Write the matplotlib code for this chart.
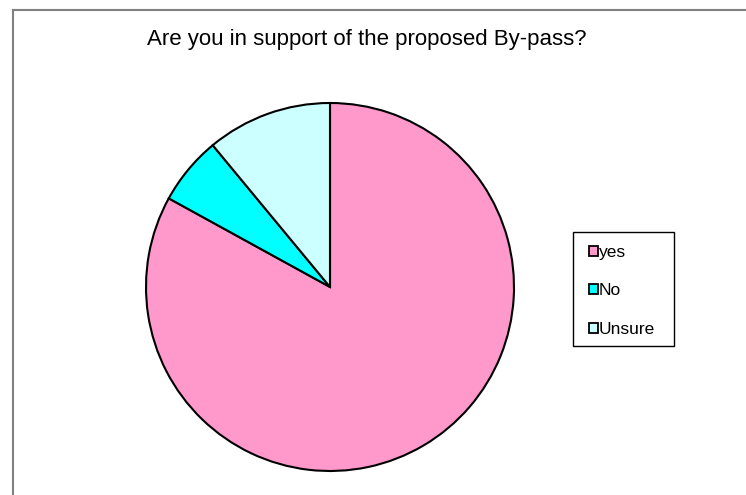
import matplotlib
matplotlib.use("Agg")
import matplotlib.pyplot as plt
from matplotlib.patches import Patch, Rectangle
from matplotlib.lines import Line2D

plt.rcParams['font.family'] = ['Liberation Sans', 'DejaVu Sans']

labels = ['yes', 'No', 'Unsure']
values = [83, 6, 11]
colors = ['#FF99CC', '#00FFFF', '#CCFFFF']

W, H = 746, 495
fig = plt.figure(figsize=(W / 100, H / 100), dpi=100)


def px(x, y):
    # pixel position (from top-left) -> figure fraction
    return x / W, 1 - y / H


# outer chart frame (top and left edges visible)
fig.add_artist(Line2D([13 / W, 1], [1 - 10 / H, 1 - 10 / H], color='#808080', lw=1.5))
fig.add_artist(Line2D([13 / W, 13 / W], [0, 1 - 10 / H], color='#808080', lw=1.5))

cx, cy, r = 330, 287, 184
ax = fig.add_axes([(cx - r) / W, (H - cy - r) / H, 2 * r / W, 2 * r / H])
ax.pie(values, colors=colors, startangle=90, counterclock=False,
       wedgeprops=dict(edgecolor='black', linewidth=1.5))
ax.set_xlim(-1, 1)
ax.set_ylim(-1, 1)
ax.set_aspect('equal')
ax.axis('off')

fig.text(*px(367, 45), 'Are you in support of the proposed By-pass?',
         ha='center', va='baseline', fontsize=16)

# legend box
x0, y0 = px(573, 346)
fig.add_artist(Rectangle((x0, y0), 101 / W, 114 / H, transform=fig.transFigure,
                         facecolor='white', edgecolor='black', lw=1.0))

handles = [Patch(facecolor=c, edgecolor='black', linewidth=1.3) for c in colors]
leg = fig.legend(handles, labels, loc='upper left',
                 bbox_to_anchor=px(589, 245),
                 fontsize=12.5, frameon=False,
                 handlelength=0.5, handleheight=0.5, handletextpad=0.08,
                 labelspacing=1.35, borderpad=0, borderaxespad=0)

fig.savefig('out.png', dpi=100)
